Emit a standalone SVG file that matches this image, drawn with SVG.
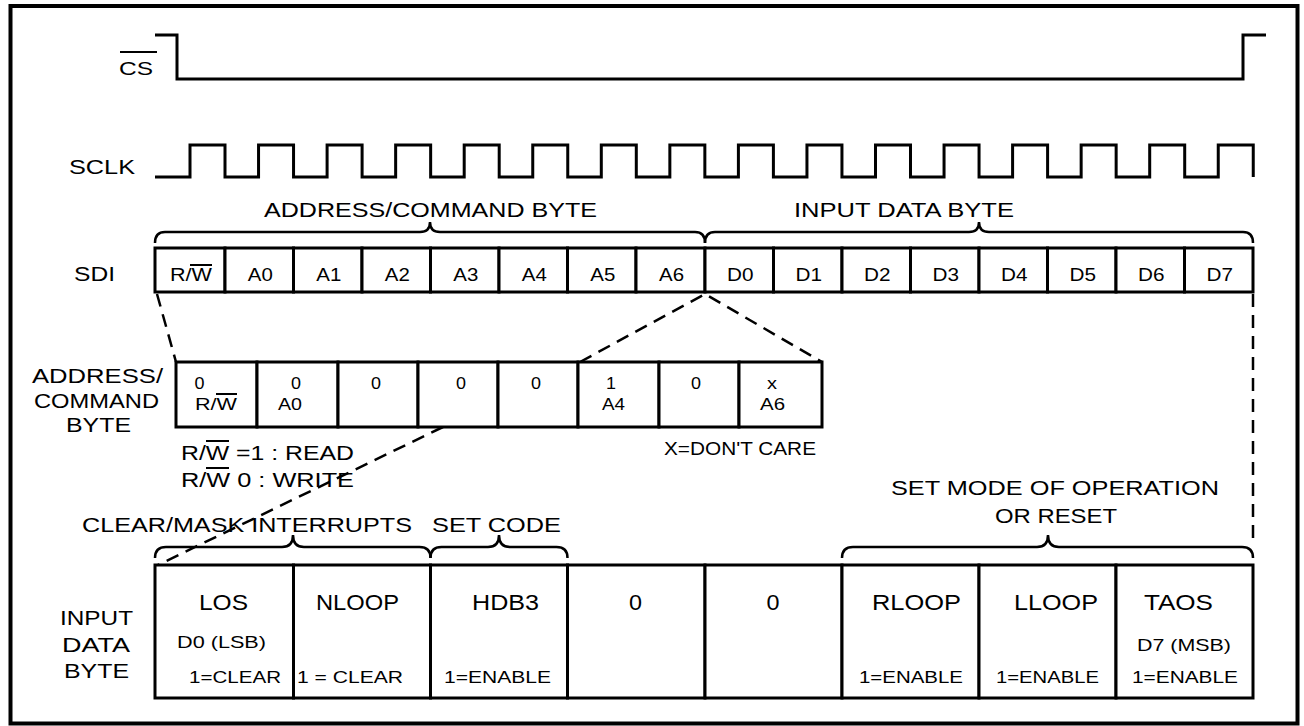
<svg xmlns="http://www.w3.org/2000/svg" width="1304" height="726" viewBox="0 0 1304 726">
<style>
text{font-family:"Liberation Sans",Arial,sans-serif;fill:#000}
.w{fill:none;stroke:#000;stroke-width:3;stroke-linejoin:miter}
.c{fill:#fff;stroke:#000;stroke-width:3}
.b{fill:none;stroke:#000;stroke-width:2.5}
.d{fill:none;stroke:#000;stroke-width:2.5;stroke-dasharray:13 8}
.ov{stroke:#000;stroke-width:2}
.f20{font-size:21px}
.f22{font-size:22px}
.f17{font-size:17px}
</style>
<rect x="10.5" y="6" width="1287" height="717.5" fill="#fff" stroke="#000" stroke-width="4"/>

<g id="cs">
<text x="119" y="75" textLength="34" lengthAdjust="spacingAndGlyphs" style="font-size:18.5px">CS</text>
<line class="ov" x1="120" y1="52" x2="157" y2="52"/>
<path class="w" d="M155,35 H177 V79 H1243 V35 H1266"/>
</g>

<g id="sclk">
<text class="f20" x="69" y="174" textLength="66" lengthAdjust="spacingAndGlyphs">SCLK</text>
<path class="w" d="M155,177 H190 V145 H225 V177 H258.55 V145 H293.55 V177 H327.1 V145 H362.1 V177 H395.65 V145 H430.65 V177 H464.2 V145 H499.2 V177 H532.75 V145 H567.75 V177 H601.3 V145 H636.3 V177 H669.85 V145 H704.85 V177 H738.4 V145 H773.4 V177 H806.95 V145 H841.95 V177 H875.5 V145 H910.5 V177 H944.05 V145 H979.05 V177 H1012.6 V145 H1047.6 V177 H1081.15 V145 H1116.15 V177 H1149.7 V145 H1184.7 V177 H1218.25 V145 H1253.25 V177"/>
</g>

<g id="sdi-labels">
<text class="f20" x="264" y="217" textLength="333" lengthAdjust="spacingAndGlyphs">ADDRESS/COMMAND BYTE</text>
<text class="f20" x="794" y="217" textLength="220" lengthAdjust="spacingAndGlyphs">INPUT DATA BYTE</text>
<text class="f20" x="74" y="281" textLength="41" lengthAdjust="spacingAndGlyphs">SDI</text>
<path class="b" d="M155,243 Q155,232 165,232 L420,232 Q430,232 430,222 Q430,232 440,232 L695,232 Q705,232 705,243"/>
<path class="b" d="M705,243 Q705,232 715,232 L969,232 Q979,232 979,222 Q979,232 989,232 L1243,232 Q1253,232 1253,243"/>
</g>

<g id="sdi" style="font-size:18.5px">
<g id="sdi-rw"><rect class="c" x="155" y="248" width="70" height="44"/><text x="170" y="281" textLength="42" lengthAdjust="spacingAndGlyphs">R/W</text><line class="ov" x1="190" y1="265" x2="212" y2="265"/></g>
<g id="sdi-a0"><rect class="c" x="225" y="248" width="68.5" height="44"/><text x="247.75" y="281" textLength="25" lengthAdjust="spacingAndGlyphs">A0</text></g>
<g id="sdi-a1"><rect class="c" x="293.5" y="248" width="68.5" height="44"/><text x="316.25" y="281" textLength="25" lengthAdjust="spacingAndGlyphs">A1</text></g>
<g id="sdi-a2"><rect class="c" x="362" y="248" width="68.5" height="44"/><text x="384.75" y="281" textLength="25" lengthAdjust="spacingAndGlyphs">A2</text></g>
<g id="sdi-a3"><rect class="c" x="430.5" y="248" width="68.5" height="44"/><text x="453.25" y="281" textLength="25" lengthAdjust="spacingAndGlyphs">A3</text></g>
<g id="sdi-a4"><rect class="c" x="499" y="248" width="68.5" height="44"/><text x="521.75" y="281" textLength="25" lengthAdjust="spacingAndGlyphs">A4</text></g>
<g id="sdi-a5"><rect class="c" x="567.5" y="248" width="68.5" height="44"/><text x="590.25" y="281" textLength="25" lengthAdjust="spacingAndGlyphs">A5</text></g>
<g id="sdi-a6"><rect class="c" x="636" y="248" width="69" height="44"/><text x="659" y="281" textLength="25" lengthAdjust="spacingAndGlyphs">A6</text></g>
<g id="sdi-d0"><rect class="c" x="705" y="248" width="68.5" height="44"/><text x="727" y="281" textLength="26.5" lengthAdjust="spacingAndGlyphs">D0</text></g>
<g id="sdi-d1"><rect class="c" x="773.5" y="248" width="68.5" height="44"/><text x="795.5" y="281" textLength="26.5" lengthAdjust="spacingAndGlyphs">D1</text></g>
<g id="sdi-d2"><rect class="c" x="842" y="248" width="68.5" height="44"/><text x="864" y="281" textLength="26.5" lengthAdjust="spacingAndGlyphs">D2</text></g>
<g id="sdi-d3"><rect class="c" x="910.5" y="248" width="68.5" height="44"/><text x="932.5" y="281" textLength="26.5" lengthAdjust="spacingAndGlyphs">D3</text></g>
<g id="sdi-d4"><rect class="c" x="979" y="248" width="68.5" height="44"/><text x="1001" y="281" textLength="26.5" lengthAdjust="spacingAndGlyphs">D4</text></g>
<g id="sdi-d5"><rect class="c" x="1047.5" y="248" width="68.5" height="44"/><text x="1069.5" y="281" textLength="26.5" lengthAdjust="spacingAndGlyphs">D5</text></g>
<g id="sdi-d6"><rect class="c" x="1116" y="248" width="68.5" height="44"/><text x="1138" y="281" textLength="26.5" lengthAdjust="spacingAndGlyphs">D6</text></g>
<g id="sdi-d7"><rect class="c" x="1184.5" y="248" width="68.5" height="44"/><text x="1206.5" y="281" textLength="26.5" lengthAdjust="spacingAndGlyphs">D7</text></g>
</g>

<g id="connectors">
<path class="d" d="M157,294 L176,362"/>
<path class="d" d="M580,362 L705,294 L822,362"/>
<path class="d" d="M443,427 L158,565"/>
<path class="d" d="M1253,294 L1253,545"/>
</g>

<g id="acb-labels">
<text class="f20" x="32" y="383" textLength="131" lengthAdjust="spacingAndGlyphs">ADDRESS/</text>
<text class="f20" x="34" y="407.5" textLength="125" lengthAdjust="spacingAndGlyphs">COMMAND</text>
<text class="f20" x="66" y="432" textLength="65" lengthAdjust="spacingAndGlyphs">BYTE</text>
<text class="f20" x="181" y="460" textLength="173" lengthAdjust="spacingAndGlyphs">R/W =1 : READ</text>
<line class="ov" x1="206" y1="441" x2="229" y2="441"/>
<text class="f20" x="181" y="487" textLength="173" lengthAdjust="spacingAndGlyphs">R/W 0 : WRITE</text>
<line class="ov" x1="206" y1="468" x2="229" y2="468"/>
<text class="f17" x="664" y="455" textLength="152" lengthAdjust="spacingAndGlyphs" style="font-size:17.5px">X=DON'T CARE</text>
</g>

<g id="acb" style="font-size:17px">
<g id="acb-0"><rect class="c" x="176" y="362" width="81" height="65"/><text x="194.5" y="389" textLength="10" lengthAdjust="spacingAndGlyphs">0</text><text x="195" y="410" textLength="42" lengthAdjust="spacingAndGlyphs">R/W</text><line class="ov" x1="216" y1="394" x2="237" y2="394"/></g>
<g id="acb-1"><rect class="c" x="257" y="362" width="81" height="65"/><text x="291" y="389" textLength="10" lengthAdjust="spacingAndGlyphs">0</text><text x="278" y="410" textLength="24" lengthAdjust="spacingAndGlyphs">A0</text></g>
<g id="acb-2"><rect class="c" x="338" y="362" width="80" height="65"/><text x="371" y="389" textLength="10" lengthAdjust="spacingAndGlyphs">0</text></g>
<g id="acb-3"><rect class="c" x="418" y="362" width="80" height="65"/><text x="456" y="389" textLength="10" lengthAdjust="spacingAndGlyphs">0</text></g>
<g id="acb-4"><rect class="c" x="498" y="362" width="80" height="65"/><text x="531" y="389" textLength="10" lengthAdjust="spacingAndGlyphs">0</text></g>
<g id="acb-5"><rect class="c" x="578" y="362" width="81" height="65"/><text x="606" y="389" textLength="10" lengthAdjust="spacingAndGlyphs">1</text><text x="602" y="410" textLength="23" lengthAdjust="spacingAndGlyphs">A4</text></g>
<g id="acb-6"><rect class="c" x="659" y="362" width="80" height="65"/><text x="691" y="389" textLength="10" lengthAdjust="spacingAndGlyphs">0</text></g>
<g id="acb-7"><rect class="c" x="739" y="362" width="83" height="65"/><text x="767" y="389" textLength="10" lengthAdjust="spacingAndGlyphs">x</text><text x="760" y="410" textLength="25" lengthAdjust="spacingAndGlyphs">A6</text></g>
</g>

<g id="idb-labels">
<text class="f20" x="82" y="532" textLength="330" lengthAdjust="spacingAndGlyphs">CLEAR/MASK INTERRUPTS</text>
<text class="f20" x="432" y="532" textLength="129" lengthAdjust="spacingAndGlyphs">SET CODE</text>
<text class="f20" x="891" y="495" textLength="328" lengthAdjust="spacingAndGlyphs">SET MODE OF OPERATION</text>
<text class="f20" x="995" y="523" textLength="122" lengthAdjust="spacingAndGlyphs">OR RESET</text>
<path class="b" d="M155,558 Q155,547 166,547 L282,547 Q293,547 293,535 Q293,547 304,547 L419.5,547 Q430.5,547 430.5,558"/>
<path class="b" d="M430.5,558 Q430.5,547 441.5,547 L488,547 Q499,547 499,535 Q499,547 510,547 L556.5,547 Q567.5,547 567.5,558"/>
<path class="b" d="M842,558 Q842,547 853,547 L1037,547 Q1048,547 1048,535 Q1048,547 1059,547 L1242,547 Q1253,547 1253,558"/>
<text class="f20" x="60" y="625" textLength="73" lengthAdjust="spacingAndGlyphs">INPUT</text>
<text class="f20" x="62" y="652" textLength="68" lengthAdjust="spacingAndGlyphs">DATA</text>
<text class="f20" x="64" y="678" textLength="65" lengthAdjust="spacingAndGlyphs">BYTE</text>
</g>

<g id="idb">
<g id="idb-los"><rect class="c" x="155" y="565" width="138.5" height="133"/><text class="f22" x="199" y="610" textLength="49" lengthAdjust="spacingAndGlyphs">LOS</text><text class="f17" x="177" y="648" textLength="89" lengthAdjust="spacingAndGlyphs">D0 (LSB)</text><text class="f17" x="189" y="683" textLength="92" lengthAdjust="spacingAndGlyphs">1=CLEAR</text></g>
<g id="idb-nloop"><rect class="c" x="293.5" y="565" width="137" height="133"/><text class="f22" x="316" y="610" textLength="83" lengthAdjust="spacingAndGlyphs">NLOOP</text><text class="f17" x="297" y="683" textLength="106" lengthAdjust="spacingAndGlyphs">1 = CLEAR</text></g>
<g id="idb-hdb3"><rect class="c" x="430.5" y="565" width="137" height="133"/><text class="f22" x="472" y="610" textLength="67" lengthAdjust="spacingAndGlyphs">HDB3</text><text class="f17" x="444" y="683" textLength="107" lengthAdjust="spacingAndGlyphs">1=ENABLE</text></g>
<g id="idb-d3"><rect class="c" x="567.5" y="565" width="137.5" height="133"/><text class="f22" x="629" y="610" textLength="13" lengthAdjust="spacingAndGlyphs">0</text></g>
<g id="idb-d4"><rect class="c" x="705" y="565" width="137" height="133"/><text class="f22" x="766.5" y="610" textLength="13" lengthAdjust="spacingAndGlyphs">0</text></g>
<g id="idb-rloop"><rect class="c" x="842" y="565" width="137" height="133"/><text class="f22" x="872" y="610" textLength="89" lengthAdjust="spacingAndGlyphs">RLOOP</text><text class="f17" x="859" y="683" textLength="104" lengthAdjust="spacingAndGlyphs">1=ENABLE</text></g>
<g id="idb-lloop"><rect class="c" x="979" y="565" width="137" height="133"/><text class="f22" x="1014" y="610" textLength="84" lengthAdjust="spacingAndGlyphs">LLOOP</text><text class="f17" x="996" y="683" textLength="103" lengthAdjust="spacingAndGlyphs">1=ENABLE</text></g>
<g id="idb-taos"><rect class="c" x="1116" y="565" width="137" height="133"/><text class="f22" x="1144" y="610" textLength="69" lengthAdjust="spacingAndGlyphs">TAOS</text><text class="f17" x="1137" y="651" textLength="94" lengthAdjust="spacingAndGlyphs">D7 (MSB)</text><text class="f17" x="1132" y="683" textLength="106" lengthAdjust="spacingAndGlyphs">1=ENABLE</text></g>
</g>
</svg>
